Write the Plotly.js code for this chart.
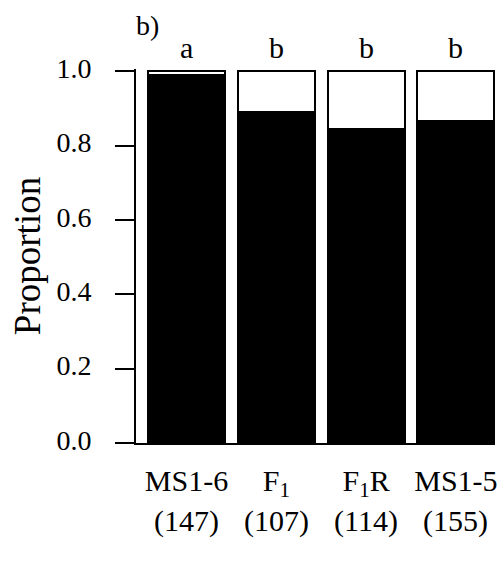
<!DOCTYPE html>
<html>
<head>
<meta charset="utf-8">
<script src="https://cdn.plot.ly/plotly-3.0.1.min.js"></script>
<style>html,body{margin:0;padding:0;background:#fff;}#chart{width:504px;height:562px;}</style>
</head>
<body>
<div id="chart"></div>
<script>
var groups = ["MS1-6", "F<sub>1</sub>", "F<sub>1</sub>R", "MS1-5"];
var counts = ["(147)", "(107)", "(114)", "(155)"];
var proportion = [0.989, 0.891, 0.844, 0.867];
var letters = ["a", "b", "b", "b"];
var yTicks = [0, 0.2, 0.4, 0.6, 0.8, 1.0];
var yTickText = ["0.0", "0.2", "0.4", "0.6", "0.8", "1.0"];
var panelLabel = "b)";

var xs = groups.map(function (_, i) { return i; });
var rest = proportion.map(function (v) { return 1 - v; });
var FONT = "Liberation Serif";

var traces = [
  {type: "bar", x: xs, y: proportion, width: 0.857,
   marker: {color: "#000", line: {color: "#000", width: 2}}, hoverinfo: "skip"},
  {type: "bar", x: xs, y: rest, width: 0.857,
   marker: {color: "#fff", line: {color: "#000", width: 2}}, hoverinfo: "skip"}
];

var annotations = [];
xs.forEach(function (x, i) {
  annotations.push({x: x, y: 1, xref: "x", yref: "y", text: letters[i], showarrow: false,
    yanchor: "bottom", yshift: 5, font: {family: FONT, size: 30, color: "#000"}});
  annotations.push({x: x, y: 0, xref: "x", yref: "paper", text: counts[i], showarrow: false,
    yanchor: "middle", yshift: -78, font: {family: FONT, size: 30, color: "#000"}});
});
annotations.push({xref: "paper", yref: "paper", x: (147 - 136) / 359, y: 1 + (71 - 28) / 372,
  text: panelLabel, showarrow: false, xanchor: "center", yanchor: "middle",
  font: {family: FONT, size: 28, color: "#000"}});

var layout = {
  width: 504, height: 562,
  margin: {l: 136, r: 9, t: 69, b: 119, pad: 0},
  paper_bgcolor: "#fff", plot_bgcolor: "#fff",
  barmode: "stack", showlegend: false,
  font: {family: FONT, color: "#000", size: 28},
  xaxis: {
    range: [-0.562, 3.435], tickvals: xs, ticktext: groups,
    showgrid: false, zeroline: false, showline: true, linecolor: "#000", linewidth: 2,
    ticks: "", ticklabelstandoff: 10, tickfont: {family: FONT, size: 30, color: "#000"},
    fixedrange: true
  },
  yaxis: {
    range: [0, 1.006], tickvals: yTicks, ticktext: yTickText,
    showgrid: false, zeroline: false, showline: true, linecolor: "#000", linewidth: 2,
    ticks: "outside", ticklen: 19, tickwidth: 2, tickcolor: "#000",
    ticklabelstandoff: 18, ticklabelshift: -3, tickfont: {family: FONT, size: 28, color: "#000"},
    title: {text: "Proportion", standoff: 4, font: {family: FONT, size: 37, color: "#000"}},
    fixedrange: true
  },
  annotations: annotations
};

Plotly.newPlot("chart", traces, layout, {displayModeBar: false, staticPlot: true});
</script>
</body>
</html>
